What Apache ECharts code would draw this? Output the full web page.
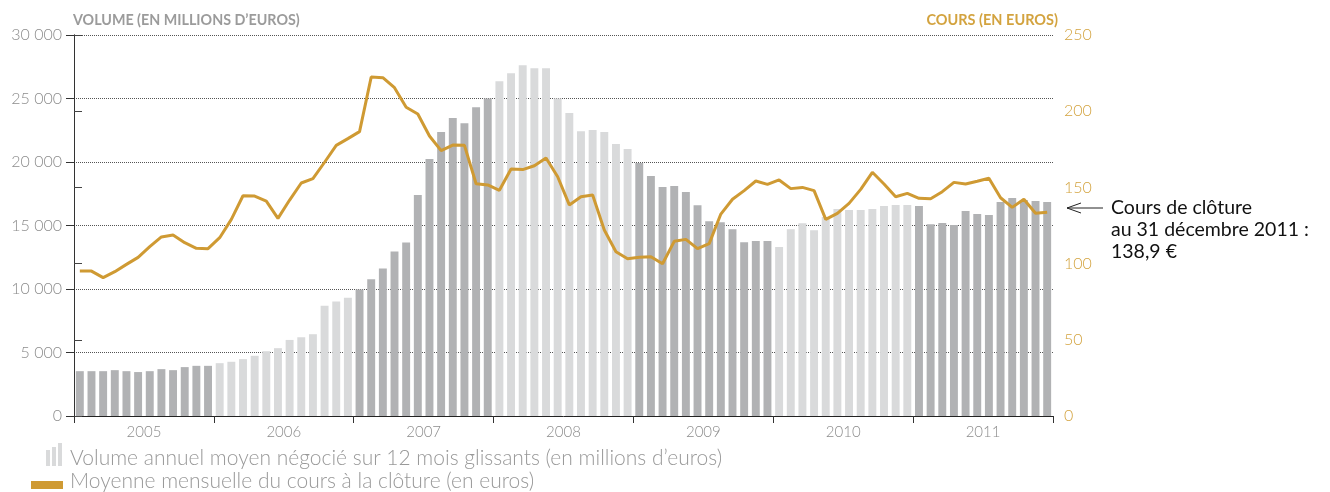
<!DOCTYPE html>
<html>
<head>
<meta charset="utf-8">
<script src="https://cdn.jsdelivr.net/npm/echarts@6/dist/echarts.min.js"></script>
<style>
  html, body { margin: 0; padding: 0; background: #fff; }
  #chart { width: 1330px; height: 492px; }
</style>
</head>
<body>
<div id="chart"></div>
<script>
// années affichées sur l'axe
const years = ['2005', '2006', '2007', '2008', '2009', '2010', '2011'];

// volume annuel moyen sur 12 mois glissants (millions d'euros), un tableau par année
const vol2005 = [3530, 3530, 3530, 3610, 3530, 3460, 3530, 3690, 3610, 3850, 3950, 3950];
const vol2006 = [4160, 4270, 4480, 4740, 5100, 5340, 5990, 6200, 6440, 8690, 9010, 9320];
const vol2007 = [9970, 10760, 11620, 12960, 13660, 17410, 20240, 22360, 23460, 23060, 24320, 25000];
const vol2008 = [26360, 26990, 27620, 27380, 27380, 25000, 23850, 22430, 22510, 22360, 21410, 21020];
const vol2009 = [19920, 18900, 18040, 18120, 17640, 16600, 15340, 15260, 14710, 13690, 13770, 13770];
const vol2010 = [13300, 14710, 15180, 14630, 15660, 16290, 16220, 16220, 16300, 16540, 16610, 16610];
const vol2011 = [16540, 15100, 15200, 15040, 16140, 15900, 15830, 16850, 17170, 17000, 16930, 16850];

// moyenne mensuelle du cours à la clôture (euros)
const cours2005 = [95.1, 95.1, 90.8, 94.7, 99.5, 104.1, 111.1, 117.5, 118.8, 113.7, 110, 109.8];
const cours2006 = [117, 129, 144.5, 144.3, 141, 129.7, 141.7, 152.9, 155.7, 166.5, 177.6, 182];
const cours2007 = [186.6, 222.4, 222, 215.4, 202.6, 198.2, 183.7, 174.1, 177.8, 177.6, 152.4, 151.6];
const cours2008 = [148.1, 162.1, 161.7, 164.2, 169.3, 157, 138.5, 143.9, 145, 122, 107.8, 103.2];
const cours2009 = [104.1, 104.5, 99.9, 114.6, 115.9, 109.8, 113.1, 132.5, 142.2, 147.9, 154.2, 152];
const cours2010 = [154.9, 149.2, 150, 147.9, 129, 133, 139.5, 148.7, 159.9, 152.2, 143.9, 146.1];
const cours2011 = [142.8, 142.6, 147.2, 153.3, 152.2, 154, 156, 143.2, 136.9, 142.2, 133, 133.7];

const volumes = [].concat(vol2005, vol2006, vol2007, vol2008, vol2009, vol2010, vol2011);
const cours = [].concat(cours2005, cours2006, cours2007, cours2008, cours2009, cours2010, cours2011);
const months = volumes.map((v, i) => years[Math.floor(i / 12)] + '-' + (i % 12 + 1));

const GOLD = '#cf9a33';
const GOLD_TXT = '#d3a33f';
const DARK = '#b1b2b4';
const LIGHT = '#d9dadb';
const FONT = 'Lato, "Noto Sans", sans-serif';

const chart = echarts.init(document.getElementById('chart'));

const option = {
  animation: false,
  grid: { left: 74, right: 277, top: 35, bottom: 76, containLabel: false },
  xAxis: [
    {
      type: 'category',
      data: months,
      boundaryGap: true,
      axisLine: { lineStyle: { color: '#222', width: 1 } },
      axisTick: { show: false },
      axisLabel: { show: false }
    },
    {
      // graduations entre les années
      type: 'value', min: 0, max: 84, interval: 12, position: 'bottom',
      axisLine: { show: false },
      axisTick: { show: true, length: 7, lineStyle: { color: '#333' } },
      axisLabel: { show: false },
      splitLine: { show: false }
    },
    {
      // libellés des années au milieu de chaque année
      type: 'value', min: 0, max: 84, interval: 6, position: 'bottom',
      axisLine: { show: false },
      axisTick: { show: false },
      axisLabel: {
        margin: 9,
        color: '#8c8c8c',
        fontFamily: FONT,
        fontWeight: 300,
        fontSize: 15,
        formatter: v => (v % 12 === 6 ? years[(v - 6) / 12] : '')
      },
      splitLine: { show: false }
    }
  ],
  yAxis: [
    {
      type: 'value', min: 0, max: 30000, interval: 5000,
      axisLine: { show: true, lineStyle: { color: '#333' } },
      axisTick: { show: true, length: 8, lineStyle: { color: '#333' } },
      axisLabel: {
        margin: 12,
        color: '#8c8c8c',
        fontFamily: FONT,
        fontWeight: 300,
        fontSize: 16,
        formatter: v => String(v).replace(/\B(?=(\d{3})+(?!\d))/g, ' ')
      },
      splitLine: { show: true, lineStyle: { color: '#555', type: 'dotted', width: 1 } }
    },
    {
      type: 'value', min: 0, max: 250, interval: 50, position: 'right',
      axisLine: { show: true, lineStyle: { color: '#333' } },
      axisTick: { show: true, length: 8, lineStyle: { color: '#444' } },
      axisLabel: {
        margin: 11,
        color: GOLD_TXT,
        fontFamily: FONT,
        fontWeight: 300,
        fontSize: 16
      },
      splitLine: { show: false }
    }
  ],
  series: [
    {
      name: 'Volume',
      type: 'bar',
      data: volumes,
      barCategoryGap: '32%',
      itemStyle: {
        color: p => (Math.floor(p.dataIndex / 12) % 2 === 0 ? DARK : LIGHT)
      }
    },
    {
      name: 'Cours',
      type: 'line',
      yAxisIndex: 1,
      data: cours,
      symbol: 'none',
      lineStyle: { color: GOLD, width: 3 },
      z: 5
    }
  ],
  graphic: [
    {
      type: 'text', left: 73, top: 13,
      style: { text: 'VOLUME (EN MILLIONS D\u2019EUROS)', fill: '#9b9b9b', font: 'bold 14.3px ' + FONT }
    },
    {
      type: 'text', right: 272, top: 13,
      style: { text: 'COURS (EN EUROS)', fill: GOLD_TXT, font: 'bold 14.5px ' + FONT, textAlign: 'right' }
    },
    // flèche vers le dernier cours
    {
      type: 'polyline',
      shape: { points: [[1103, 208], [1067, 208]] },
      style: { stroke: '#222', lineWidth: 1, fill: null }
    },
    {
      type: 'polyline',
      shape: { points: [[1081, 203], [1067, 208], [1081, 213]] },
      style: { stroke: '#222', lineWidth: 1, fill: null }
    },
    {
      type: 'text', left: 1111, top: 197,
      style: {
        text: 'Cours de clôture\nau 31 décembre 2011 :\n138,9 €',
        fill: '#111', font: '19.5px ' + FONT, lineHeight: 22
      }
    },
    // légende
    { type: 'rect', shape: { x: 46, y: 450, width: 4, height: 16 }, style: { fill: LIGHT } },
    { type: 'rect', shape: { x: 52, y: 447, width: 4, height: 19 }, style: { fill: LIGHT } },
    { type: 'rect', shape: { x: 58, y: 443, width: 4, height: 23 }, style: { fill: LIGHT } },
    {
      type: 'text', left: 70, top: 448,
      style: { text: 'Volume annuel moyen négocié sur 12 mois glissants (en millions d\u2019euros)', fill: '#999', font: '300 21px ' + FONT }
    },
    { type: 'rect', shape: { x: 31, y: 481, width: 32, height: 8 }, style: { fill: GOLD } },
    {
      type: 'text', left: 70, top: 471,
      style: { text: 'Moyenne mensuelle du cours à la clôture (en euros)', fill: '#999', font: '300 21px ' + FONT }
    }
  ]
};

chart.setOption(option);
</script>
</body>
</html>
